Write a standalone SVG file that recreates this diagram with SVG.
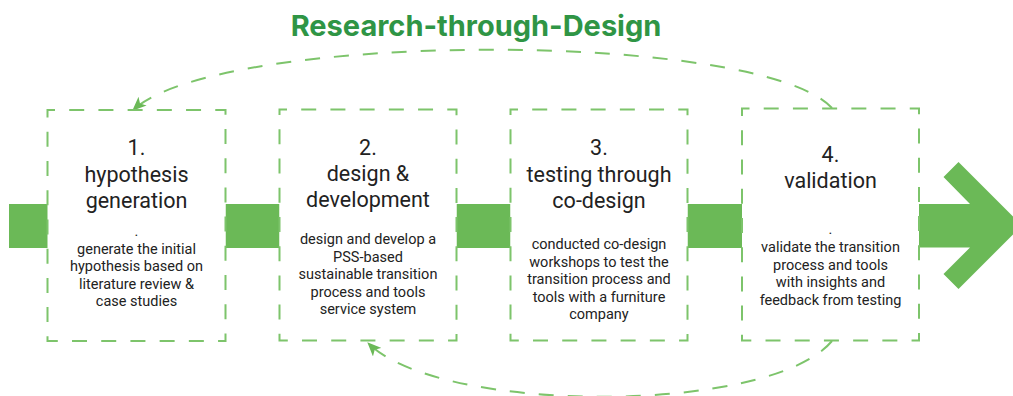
<svg xmlns="http://www.w3.org/2000/svg" width="1013" height="396" viewBox="0 0 1013 396">
  <style>
    .title { font-family: Inter, Roboto, "Liberation Sans", sans-serif; font-weight: 700; font-size: 29px; fill: #2f9545; }
    .box { fill: #ffffff; stroke: #7dc46b; stroke-width: 2; stroke-dasharray: 15 14.21; stroke-dashoffset: 7.5; }
    .head { font-family: Roboto, "Liberation Sans", sans-serif; font-size: 21.5px; fill: #222222; text-anchor: middle; }
    .body { font-family: Roboto, "Liberation Sans", sans-serif; font-size: 14.5px; fill: #222222; text-anchor: middle; }
    .bar { fill: #6bb957; }
    .loop { fill: none; stroke: #7dc46b; stroke-width: 2; stroke-dasharray: 15 14; }
  </style>
  <defs>
    <marker id="tip" markerUnits="userSpaceOnUse" viewBox="0 0 14 12" refX="13" refY="6" markerWidth="14" markerHeight="12" orient="auto">
      <path d="M0,0 L14,6 L0,12 L3.5,6 z" fill="#6bb957"/>
    </marker>
  </defs>

  <text class="title" x="476" y="36" text-anchor="middle">Research-through-Design</text>

  <!-- flow bars, final arrow and feedback loops -->
  <g id="connectors">
    <rect class="bar" x="9" y="204" width="39" height="44"/>
    <rect class="bar" x="225.5" y="204" width="54" height="44"/>
    <rect class="bar" x="456.5" y="204" width="54" height="44"/>
    <rect class="bar" x="687.5" y="204" width="54.5" height="44"/>
    <polygon class="bar" points="919,204 970,204 943.5,177 958.5,162 1022,225.5 958.5,289 943.5,274 970,247.5 919,247.5"/>
    <path class="loop" d="M832,108 C760,30 220,30 133,110" marker-end="url(#tip)"/>
    <path class="loop" d="M832,341 C770,415 440,415 368,343" marker-end="url(#tip)"/>
  </g>

  <g id="step1">
    <rect class="box" x="47.5" y="110" width="178" height="231"/>
    <text class="head" x="136.5" y="155">1.</text>
    <text class="head" x="136.5" y="181.5">hypothesis</text>
    <text class="head" x="136.5" y="208">generation</text>
    <text class="body" x="136.5" y="236">.</text>
    <text class="body" x="136.5" y="253.5">generate the initial</text>
    <text class="body" x="136.5" y="271">hypothesis based on</text>
    <text class="body" x="136.5" y="288.5">literature review &amp;</text>
    <text class="body" x="136.5" y="306">case studies</text>
  </g>

  <g id="step2">
    <rect class="box" x="279.5" y="109.5" width="177" height="231"/>
    <text class="head" x="368" y="154.5">2.</text>
    <text class="head" x="368" y="181">design &amp;</text>
    <text class="head" x="368" y="207">development</text>
    <text class="body" x="368" y="244">design and develop a</text>
    <text class="body" x="368" y="261.5">PSS-based</text>
    <text class="body" x="368" y="279">sustainable transition</text>
    <text class="body" x="368" y="296.5">process and tools</text>
    <text class="body" x="368" y="314">service system</text>
  </g>

  <g id="step3">
    <rect class="box" x="510.5" y="109.5" width="177" height="231"/>
    <text class="head" x="599" y="154.5">3.</text>
    <text class="head" x="599" y="181.5">testing through</text>
    <text class="head" x="599" y="207.5">co-design</text>
    <text class="body" x="599" y="249">conducted co-design</text>
    <text class="body" x="599" y="266.5">workshops to test the</text>
    <text class="body" x="599" y="284">transition process and</text>
    <text class="body" x="599" y="301.5">tools with a furniture</text>
    <text class="body" x="599" y="319">company</text>
  </g>

  <g id="step4">
    <rect class="box" x="742" y="108.5" width="177" height="232"/>
    <text class="head" x="830.5" y="161.5">4.</text>
    <text class="head" x="830.5" y="188">validation</text>
    <text class="body" x="830.5" y="234">.</text>
    <text class="body" x="830.5" y="252">validate the transition</text>
    <text class="body" x="830.5" y="269.5">process and tools</text>
    <text class="body" x="830.5" y="287">with insights and</text>
    <text class="body" x="830.5" y="304.5">feedback from testing</text>
  </g>
</svg>
